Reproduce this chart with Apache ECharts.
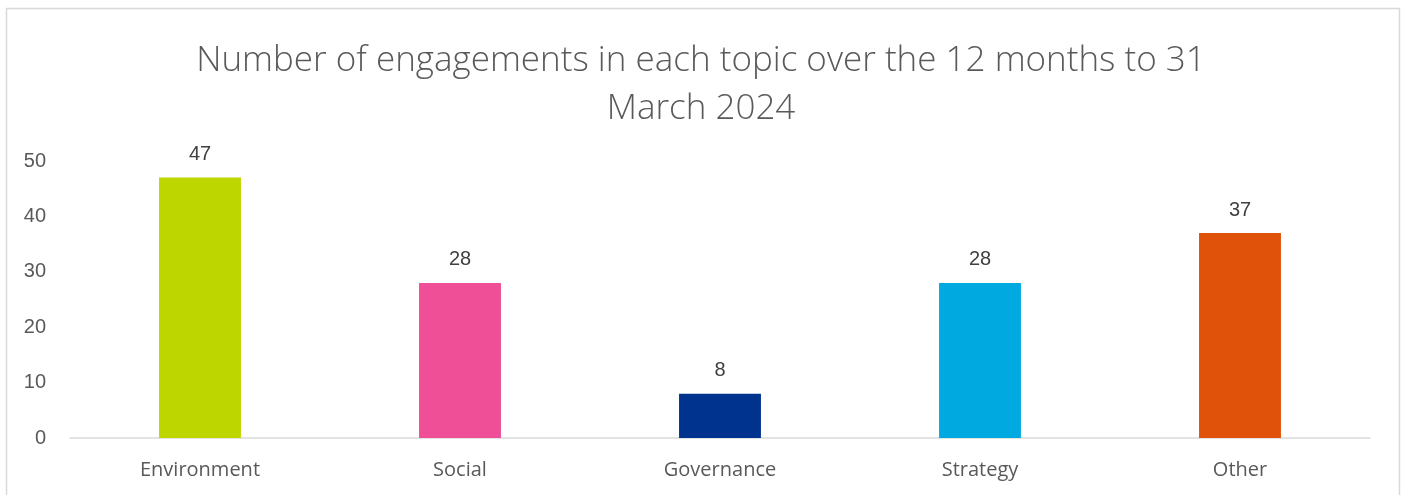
<!DOCTYPE html>
<html>
<head>
<meta charset="utf-8">
<script src="https://cdn.jsdelivr.net/npm/echarts@6/dist/echarts.min.js"></script>
<style>
  html, body { margin: 0; padding: 0; background: #fff; }
  #chart { width: 1402px; height: 495px; }
</style>
</head>
<body>
<div id="chart"></div>
<script>
// Engagement counts per topic, 12 months to 31 March 2024
const topics = ['Environment', 'Social', 'Governance', 'Strategy', 'Other'];
const engagements = [47, 28, 8, 28, 37];
const topicColors = ['#BED600', '#EE4F97', '#00338D', '#00A9E0', '#E0520A'];
const yTicks = [0, 10, 20, 30, 40, 50];

const chart = echarts.init(document.getElementById('chart'), null, { renderer: 'canvas' });

chart.setOption({
  backgroundColor: '#ffffff',
  animation: false,
  title: {
    text: 'Number of engagements in each topic over the 12 months to 31\nMarch 2024',
    left: 'center',
    top: 32,
    textStyle: {
      fontFamily: '"Open Sans", "Noto Sans", sans-serif',
      fontWeight: 300,
      fontSize: 35,
      lineHeight: 48,
      color: '#595959'
    }
  },
  graphic: [{
    type: 'rect',
    shape: { x: 6.5, y: 8.5, width: 1393, height: 520 },
    style: { fill: 'none', stroke: '#d9d9d9', lineWidth: 1.5 },
    silent: true
  }],
  grid: { left: 70, right: 32, top: 161, bottom: 57, containLabel: false },
  xAxis: {
    type: 'category',
    data: topics,
    axisLine: { lineStyle: { color: '#d9d9d9', width: 1.5 } },
    axisTick: { show: false },
    axisLabel: {
      margin: 22,
      fontFamily: '"Open Sans", "Noto Sans", sans-serif',
      fontSize: 20,
      color: '#595959'
    }
  },
  yAxis: {
    type: 'value',
    min: yTicks[0],
    max: yTicks[yTicks.length - 1],
    interval: 10,
    splitLine: { show: false },
    axisLine: { show: false },
    axisTick: { show: false },
    axisLabel: {
      margin: 24,
      fontFamily: '"Liberation Sans", Arial, sans-serif',
      fontSize: 20,
      color: '#595959'
    }
  },
  series: [{
    type: 'bar',
    barWidth: '31.5%',
    data: engagements.map((v, i) => ({ value: v, itemStyle: { color: topicColors[i] } })),
    label: {
      show: true,
      position: 'top',
      distance: 13,
      fontFamily: '"Liberation Sans", Arial, sans-serif',
      fontSize: 20,
      color: '#404040'
    }
  }]
});
</script>
</body>
</html>
